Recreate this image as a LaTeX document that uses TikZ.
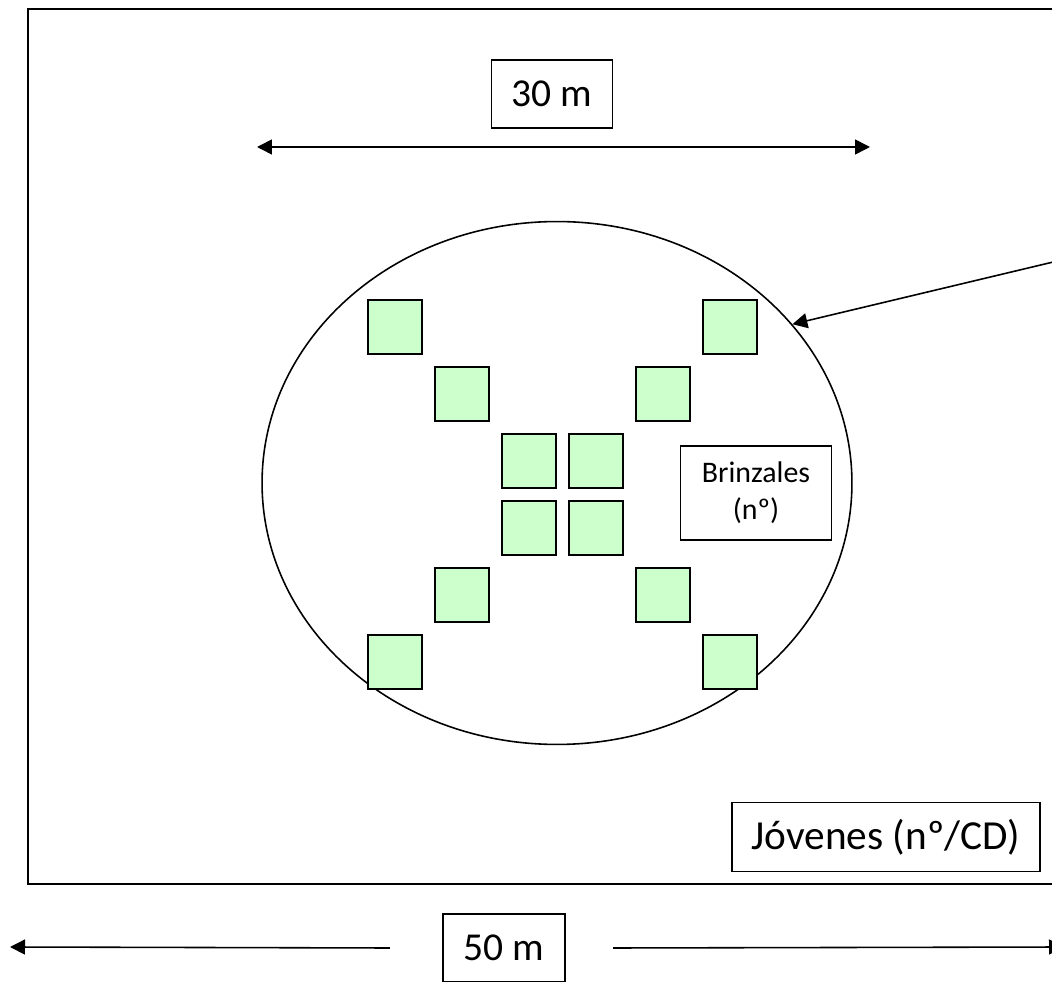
\documentclass[tikz,border=0pt]{standalone}
\usepackage{fontspec}
\setmainfont{Carlito}
\usetikzlibrary{positioning,shapes.geometric,arrows.meta}

\begin{document}
\begin{tikzpicture}[
    x=0.02cm, y=-0.02cm,
    line width=0.9pt,
    tag/.style={draw, thick, fill=white, inner sep=0pt, font=\fontsize{22.5}{27}\selectfont, align=center},
    quadrat/.style={draw, line width=1.1pt, fill=green!20, inner sep=0pt, minimum size=1.08cm},
    dimarrow/.style={-{Triangle[length=0.3cm, width=0.3cm]}},
    twoway/.style={{Triangle[length=0.3cm, width=0.3cm]}-{Triangle[length=0.3cm, width=0.3cm]}}
  ]
    \clip (0,0) rectangle (1052,982);

    % Outer plot (50 m)
    \draw (28,9) rectangle (1075,884);

    % Circular subplot
    \node[draw, ellipse, inner sep=0pt, minimum width=11.8cm, minimum height=10.46cm] (plot) at (557,483) {};

    % Seedling squares
    \foreach \k/\j in {0/0,1/1,2/2,3/2,2/3,3/3,1/4,0/5,5/0,4/1,4/4,5/5}
      \node[quadrat] (sq\k\j) at ({395+67*\k},{327+67*\j}) {};

    % Labels
    \node[tag, minimum width=2.42cm, minimum height=1.36cm] (thirty) at (552,94) {30 m};
    \node[tag, minimum width=3.02cm, minimum height=1.88cm, font=\fontsize{17}{21}\selectfont] (brinz) at (756,493) {Brinzales\\(nº)};
    \node[tag, minimum width=6.16cm, minimum height=1.38cm, font=\fontsize{23.5}{28}\selectfont] (joven) at (886,837) {Jóvenes (nº/CD)};
    \node[tag, minimum width=2.44cm, minimum height=1.36cm] (fifty) at (504,948) {50 m};

    % Dimension arrows
    \coordinate (tl) at (257,147);
    \coordinate (tr) at (870,147);
    \draw[twoway] (tl) -- (tr);
    \coordinate (bl) at (10,947);
    \coordinate (br) at (1064,947);
    \draw[dimarrow] ([xshift=-1.05cm]fifty.west) -- (bl);
    \draw[dimarrow] ([xshift=0.95cm]fifty.east) -- (br);

    % Pointer to the subplot
    \coordinate (ptr) at (1070,258);
    \draw[dimarrow] (ptr) -- (plot.34);
  \end{tikzpicture}
\end{document}
